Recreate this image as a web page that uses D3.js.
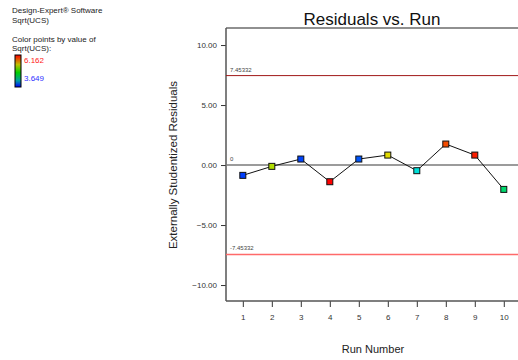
<!DOCTYPE html>
<html lang="en">
<head>
<meta charset="utf-8">
<title>Residuals vs. Run</title>
<script src="https://cdn.jsdelivr.net/npm/d3@7"></script>
<style>
  body { margin: 0; background: #fff; }
  svg text { font-family: "Liberation Sans", Arial, sans-serif; }
</style>
</head>
<body>
<script>
// chart data
var runs = [1, 2, 3, 4, 5, 6, 7, 8, 9, 10];
var residuals = [-0.86, -0.11, 0.5, -1.39, 0.5, 0.83, -0.47, 1.75, 0.83, -2.03];
var sqrtUCS = [3.70, 5.40, 3.72, 6.16, 3.78, 5.55, 4.30, 5.95, 6.08, 4.60];
var yTicks = [10, 5, 0, -5, -10];
var limitValue = 7.45332;
var ucsRange = [3.649, 6.162];

var width = 518, height = 360;
var margin = { top: 28, right: 0, bottom: 59, left: 226 };

var svg = d3.select("body").append("svg")
    .attr("width", width)
    .attr("height", height);

var xScale = d3.scaleLinear()
    .domain([0.42, 10.49])
    .range([margin.left, width - margin.right]);

var yScale = d3.scaleLinear()
    .domain([-11.33, 11.42])
    .range([height - margin.bottom, margin.top]);

// rainbow colour by value, blue -> red
var colorScale = d3.scaleLinear()
    .domain(d3.range(5).map(function(i) { return ucsRange[0] + i * (ucsRange[1] - ucsRange[0]) / 4; }))
    .range(["#0030ff", "#00e0e0", "#00d000", "#e0e000", "#ff0000"]);

// legend text
var legend = svg.append("g").attr("font-size", "8px").attr("fill", "#222");
legend.append("text").attr("x", 12).attr("y", 13).text("Design-Expert\u00ae Software");
legend.append("text").attr("x", 12).attr("y", 23).text("Sqrt(UCS)");
legend.append("text").attr("x", 12).attr("y", 42).text("Color points by value of");
legend.append("text").attr("x", 12).attr("y", 51).text("Sqrt(UCS):");

var grad = svg.append("defs").append("linearGradient")
    .attr("id", "ucsGrad").attr("x1", 0).attr("y1", 0).attr("x2", 0).attr("y2", 1);
[["0%", "#ff0000"], ["30%", "#c0c000"], ["55%", "#00d000"], ["80%", "#00a0a0"], ["100%", "#0000ff"]]
  .forEach(function(s) { grad.append("stop").attr("offset", s[0]).attr("stop-color", s[1]); });

svg.append("rect")
    .attr("x", 15).attr("y", 55).attr("width", 6).attr("height", 32)
    .attr("fill", "url(#ucsGrad)")
    .attr("stroke", "#000").attr("stroke-width", 1);
legend.append("text").attr("x", 24).attr("y", 63).attr("fill", "#ff2020").text(ucsRange[1].toFixed(3));
legend.append("text").attr("x", 24).attr("y", 81).attr("fill", "#3030ff").text(ucsRange[0].toFixed(3));

// title
svg.append("text")
    .attr("x", 372).attr("y", 25)
    .attr("text-anchor", "middle")
    .attr("font-size", "17px")
    .attr("fill", "#111")
    .text("Residuals vs. Run");

// frame top
svg.append("line")
    .attr("x1", margin.left).attr("x2", width)
    .attr("y1", margin.top).attr("y2", margin.top)
    .attr("stroke", "#222").attr("stroke-width", 1.2);

// axes
var yAxis = d3.axisLeft(yScale)
    .tickValues(yTicks)
    .tickSize(5)
    .tickFormat(d3.format(".2f"));

var gy = svg.append("g")
    .attr("transform", "translate(" + margin.left + ",0)")
    .call(yAxis);
gy.select(".domain").remove();
gy.selectAll("line").attr("stroke", "#333");
gy.selectAll("text").attr("font-size", "8px").attr("fill", "#333").attr("dx", "-1");

svg.append("line")
    .attr("x1", margin.left).attr("x2", margin.left)
    .attr("y1", margin.top).attr("y2", height - margin.bottom)
    .attr("stroke", "#555").attr("stroke-width", 1.5);

var xAxis = d3.axisBottom(xScale)
    .tickValues(runs)
    .tickSize(6)
    .tickFormat(d3.format("d"));

var gx = svg.append("g")
    .attr("transform", "translate(0," + (height - margin.bottom) + ")")
    .call(xAxis);
gx.select(".domain").remove();
gx.selectAll("line").attr("stroke", "#333");
gx.selectAll("text").attr("font-size", "8px").attr("fill", "#333").attr("dy", "1.2em");

svg.append("line")
    .attr("x1", margin.left).attr("x2", width)
    .attr("y1", height - margin.bottom).attr("y2", height - margin.bottom)
    .attr("stroke", "#555").attr("stroke-width", 1.5);

// axis titles
svg.append("text")
    .attr("transform", "translate(177," + yScale(0) + ") rotate(-90)")
    .attr("text-anchor", "middle")
    .attr("font-size", "11.5px")
    .attr("fill", "#222")
    .text("Externally Studentized Residuals");

svg.append("text")
    .attr("x", 373).attr("y", 353)
    .attr("text-anchor", "middle")
    .attr("font-size", "11px")
    .attr("fill", "#222")
    .text("Run Number");

// reference lines
var refs = [
    { v: limitValue, label: "7.45332", color: "#a01818", w: 1 },
    { v: 0, label: "0", color: "#7a7a7a", w: 1.4 },
    { v: -limitValue, label: "-7.45332", color: "#ff6a6a", w: 1.4 }
];
refs.forEach(function(r) {
    svg.append("line")
        .attr("x1", margin.left).attr("x2", width)
        .attr("y1", yScale(r.v)).attr("y2", yScale(r.v))
        .attr("stroke", r.color).attr("stroke-width", r.w);
    svg.append("text")
        .attr("x", margin.left + 4).attr("y", yScale(r.v) - 4)
        .attr("font-size", "6px")
        .attr("fill", "#444")
        .text(r.label);
});

// line connecting points
var line = d3.line()
    .x(function(d, i) { return xScale(runs[i]); })
    .y(function(d) { return yScale(d); });

svg.append("path")
    .datum(residuals)
    .attr("d", line)
    .attr("fill", "none")
    .attr("stroke", "#111")
    .attr("stroke-width", 1);

// points
var sz = 6;
svg.selectAll("rect.pt")
    .data(residuals)
    .enter().append("rect")
    .attr("class", "pt")
    .attr("x", function(d, i) { return xScale(runs[i]) - sz / 2; })
    .attr("y", function(d) { return yScale(d) - sz / 2; })
    .attr("width", sz).attr("height", sz)
    .attr("fill", function(d, i) { return colorScale(sqrtUCS[i]); })
    .attr("stroke", "#111")
    .attr("stroke-width", 1);
</script>
</body>
</html>
